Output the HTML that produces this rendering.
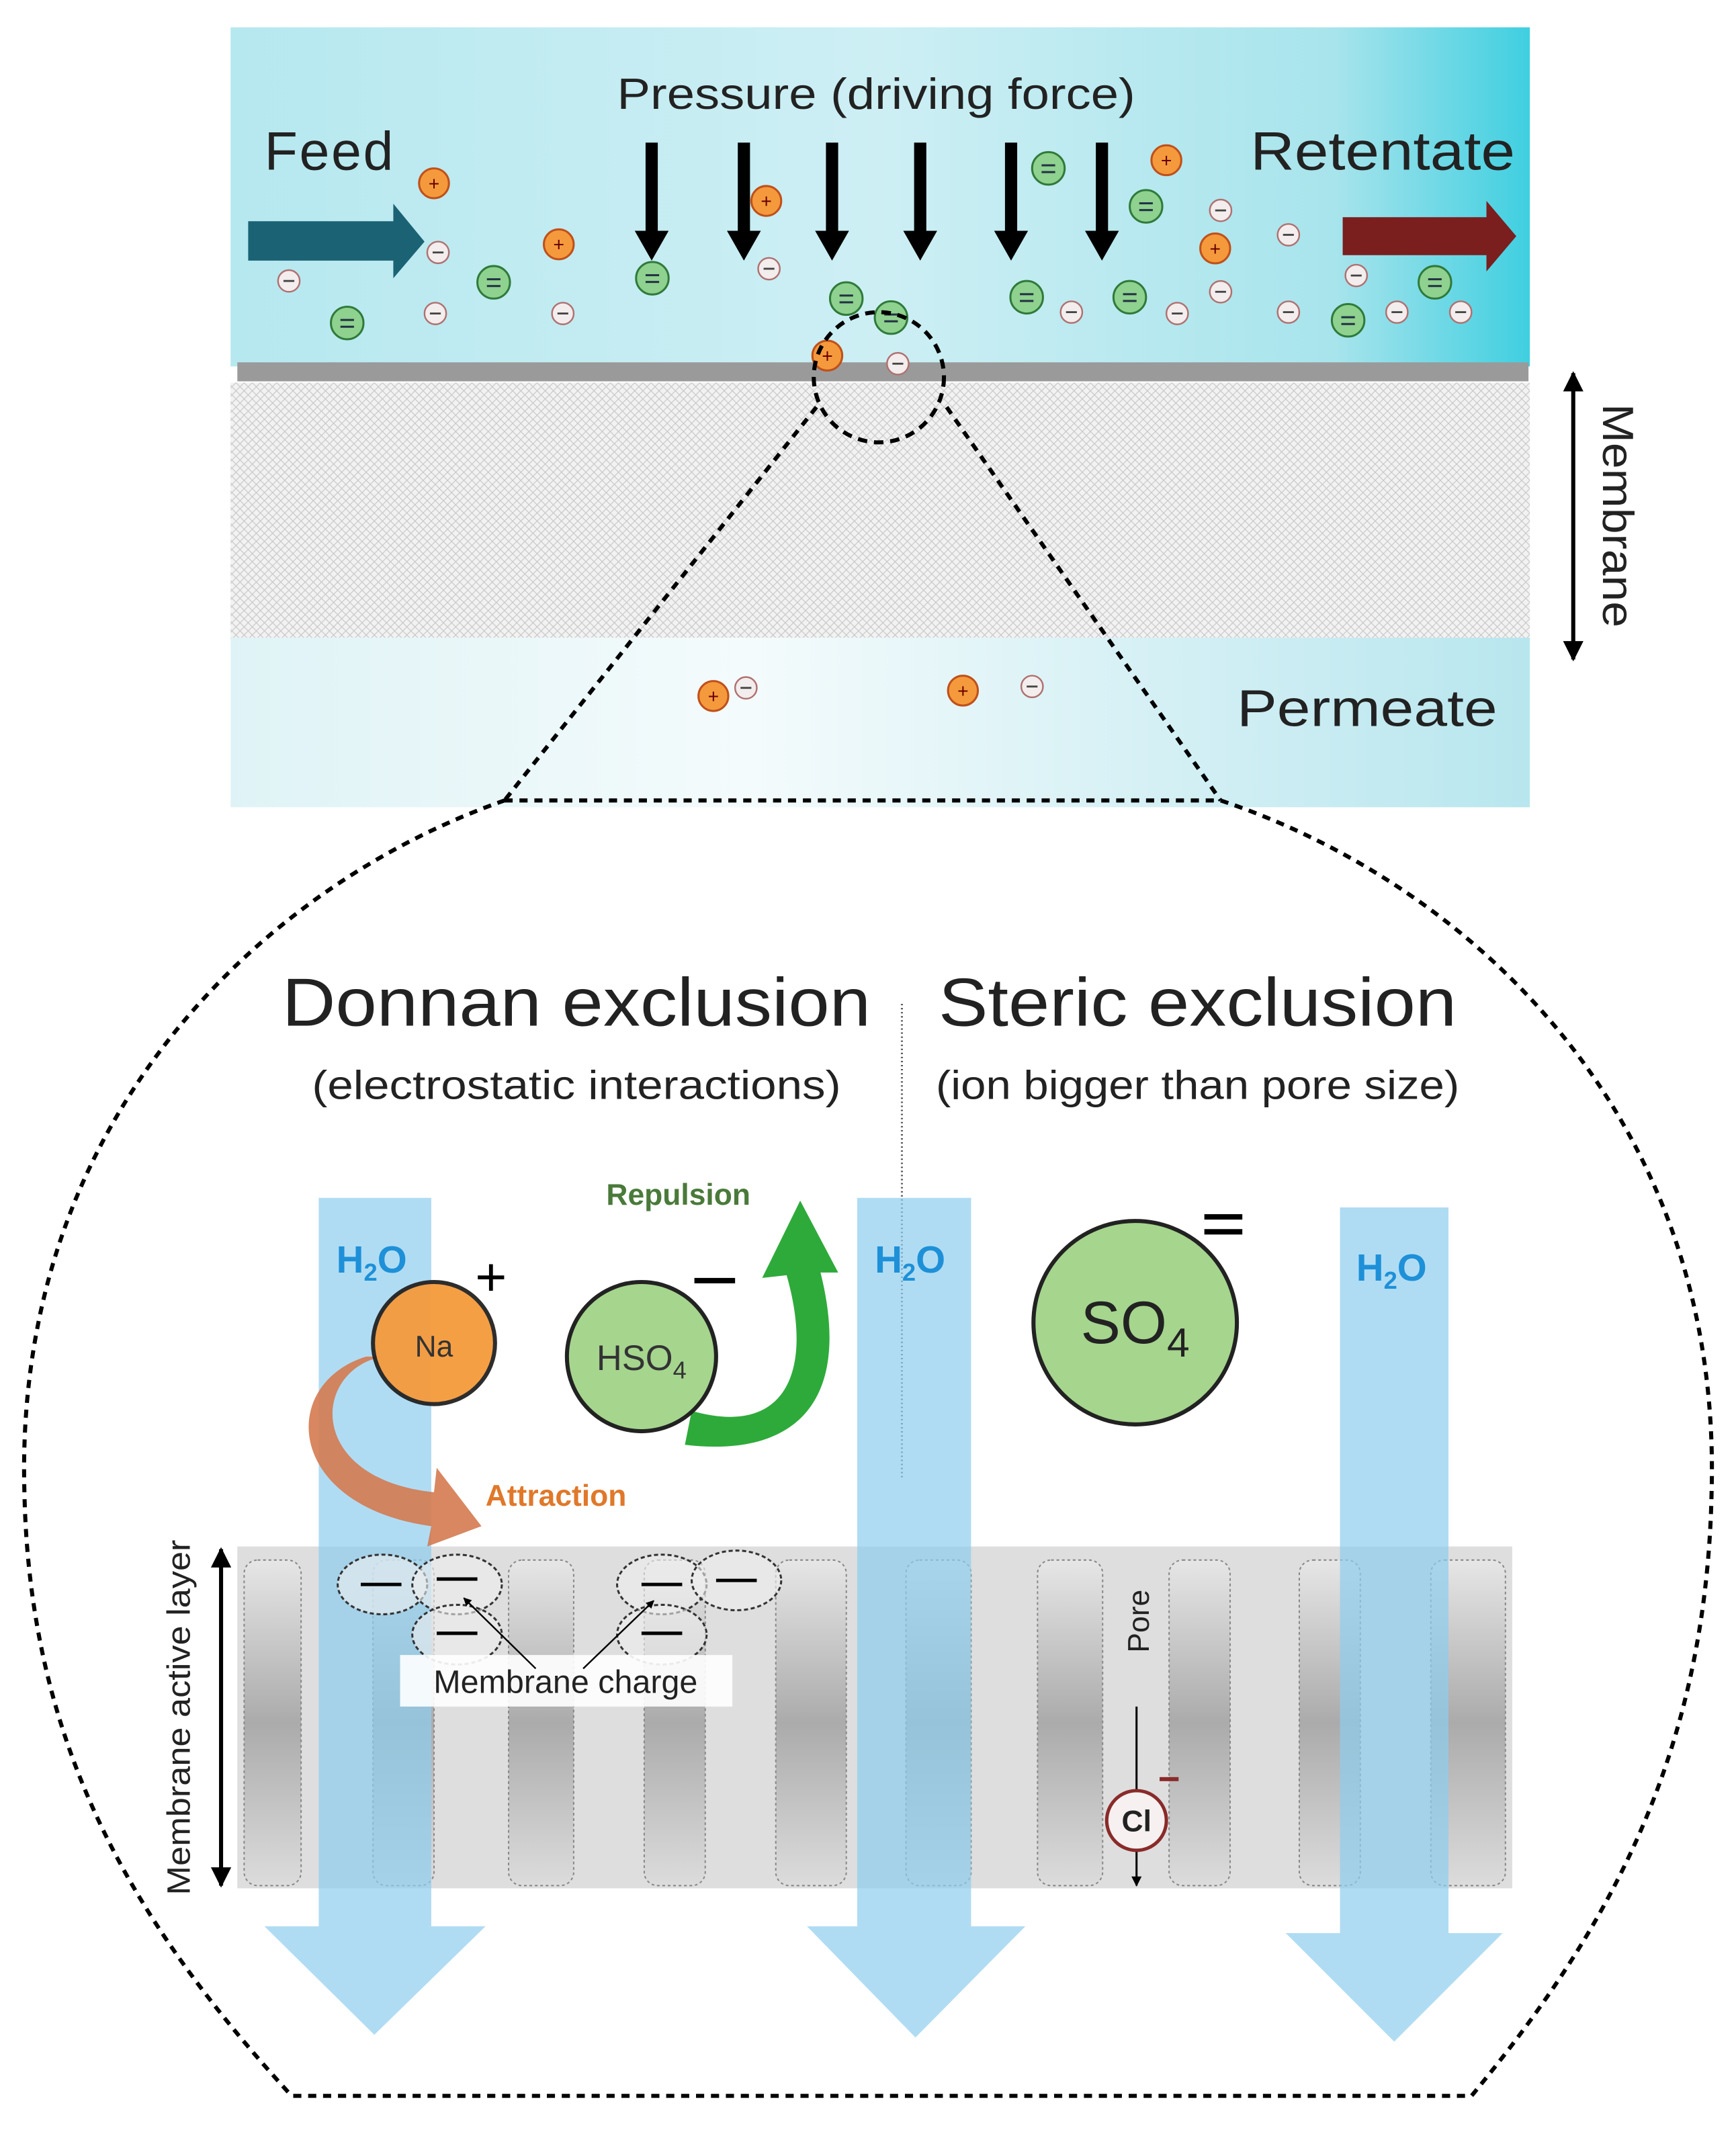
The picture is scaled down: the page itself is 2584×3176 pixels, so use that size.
<!DOCTYPE html>
<html><head><meta charset="utf-8"><style>
html,body{margin:0;padding:0;background:#fff;}
svg{display:block;font-family:"Liberation Sans",sans-serif;}
</style></head><body>
<svg width="2584" height="3176" viewBox="0 0 1280 1573" xmlns="http://www.w3.org/2000/svg">
<defs>
<linearGradient id="feed" x1="0" x2="1" y1="0" y2="0">
<stop offset="0" stop-color="#b6e8ef"/><stop offset="0.5" stop-color="#cdeff4"/><stop offset="0.85" stop-color="#a8e4ec"/><stop offset="1" stop-color="#3fcfe0"/></linearGradient>
<linearGradient id="perm" x1="0" x2="1" y1="0" y2="0">
<stop offset="0" stop-color="#dff3f6"/><stop offset="0.4" stop-color="#f4fbfc"/><stop offset="1" stop-color="#b8e6ee"/></linearGradient>
<pattern id="hatch" width="6" height="6" patternUnits="userSpaceOnUse">
<rect width="6" height="6" fill="#f2f2f2"/><path d="M0 0L6 6M6 0L0 6" stroke="#c8c8c8" stroke-width="0.6"/></pattern>
<linearGradient id="pil" x1="0" x2="0" y1="0" y2="1">
<stop offset="0" stop-color="#e6e6e6"/><stop offset="0.5" stop-color="#ababab"/><stop offset="1" stop-color="#dcdcdc"/></linearGradient>
<marker id="ah" viewBox="0 0 10 10" refX="9" refY="5" markerWidth="5" markerHeight="5" orient="auto-start-reverse"><path d="M0 0L10 5L0 10z" fill="#000"/></marker>
<g id="pos"><circle r="11" fill="#f59a3c" stroke="#c0501a" stroke-width="1.5"/><text y="5" text-anchor="middle" font-size="14" fill="#600">+</text></g>
<g id="neg"><circle r="8" fill="#f3eded" stroke="#b07070" stroke-width="1.2"/><rect x="-4" y="-0.7" width="8" height="1.4" fill="#444"/></g>
<g id="sul"><circle r="12" fill="#8fd18f" stroke="#2f7a3a" stroke-width="1.5"/><rect x="-5" y="-3" width="10" height="1.5" fill="#234"/><rect x="-5" y="2" width="10" height="1.5" fill="#234"/></g>
</defs>
<rect x="170" y="20" width="958" height="250" fill="url(#feed)"/>
<rect x="170" y="282" width="958" height="190" fill="url(#hatch)"/>
<rect x="170" y="470" width="958" height="125" fill="url(#perm)"/>
<rect x="175" y="267" width="952" height="14" fill="#9a9a9a"/>
<text x="195" y="125" font-size="40" fill="#222" textLength="95">Feed</text>
<text x="455" y="80" font-size="32" fill="#222" textLength="382" lengthAdjust="spacingAndGlyphs">Pressure (driving force)</text>
<text x="922" y="125" font-size="40" fill="#222" textLength="195" lengthAdjust="spacingAndGlyphs">Retentate</text>
<text x="912" y="535" font-size="38" fill="#222" textLength="192" lengthAdjust="spacingAndGlyphs">Permeate</text>
<path d="M183 163H290V150L313 178L290 205V192H183Z" fill="#1b6274"/>
<path d="M990 160H1096V148L1118 174L1096 200V188H990Z" fill="#7a1e1e"/>
<g fill="#000">
<path d="M476 105h9v65h8l-12.5 22l-12.5-22h8z"/>
<path d="M544 105h9v65h8l-12.5 22l-12.5-22h8z"/>
<path d="M609 105h9v65h8l-12.5 22l-12.5-22h8z"/>
<path d="M674 105h9v65h8l-12.5 22l-12.5-22h8z"/>
<path d="M741 105h9v65h8l-12.5 22l-12.5-22h8z"/>
<path d="M808 105h9v65h8l-12.5 22l-12.5-22h8z"/>
</g>
<use href="#pos" x="320" y="135"/><use href="#pos" x="412" y="180"/><use href="#pos" x="565" y="148"/><use href="#pos" x="860" y="118"/><use href="#pos" x="896" y="183"/><use href="#pos" x="610" y="262"/>
<use href="#pos" x="526" y="513"/><use href="#pos" x="710" y="509"/>
<use href="#neg" x="213" y="207"/><use href="#neg" x="323" y="186"/><use href="#neg" x="321" y="231"/><use href="#neg" x="415" y="231"/><use href="#neg" x="567" y="198"/><use href="#neg" x="662" y="268"/><use href="#neg" x="790" y="230"/><use href="#neg" x="868" y="231"/><use href="#neg" x="900" y="155"/><use href="#neg" x="900" y="215"/><use href="#neg" x="950" y="173"/><use href="#neg" x="950" y="230"/><use href="#neg" x="1000" y="203"/><use href="#neg" x="1030" y="230"/><use href="#neg" x="1077" y="230"/><use href="#neg" x="550" y="507"/><use href="#neg" x="761" y="506"/>
<use href="#sul" x="256" y="238"/><use href="#sul" x="364" y="208"/><use href="#sul" x="481" y="205"/><use href="#sul" x="624" y="220"/><use href="#sul" x="657" y="234"/><use href="#sul" x="773" y="124"/><use href="#sul" x="845" y="152"/><use href="#sul" x="757" y="219"/><use href="#sul" x="833" y="219"/><use href="#sul" x="994" y="236"/><use href="#sul" x="1058" y="208"/>
<line x1="1160" y1="275" x2="1160" y2="486" stroke="#000" stroke-width="3" marker-start="url(#ah)" marker-end="url(#ah)"/>
<text transform="translate(1182 380) rotate(90)" font-size="32" text-anchor="middle" fill="#222" textLength="165" lengthAdjust="spacingAndGlyphs">Membrane</text>
<circle cx="648" cy="278" r="48" fill="none" stroke="#000" stroke-width="3" stroke-dasharray="7 5"/>
<g fill="none" stroke="#000" stroke-width="3" stroke-dasharray="6 5">
<line x1="602" y1="300" x2="372" y2="590"/><line x1="698" y1="300" x2="900" y2="590"/>
<path d="M372 590H900C1080 650 1270 820 1262 1100C1258 1300 1180 1430 1085 1545H215C110 1430 22 1300 18 1100C10 820 200 650 372 590Z"/>
</g>
<text x="208" y="756" font-size="50" fill="#222" textLength="434" lengthAdjust="spacingAndGlyphs">Donnan exclusion</text>
<text x="230" y="810" font-size="30" fill="#222" textLength="390" lengthAdjust="spacingAndGlyphs">(electrostatic interactions)</text>
<text x="692" y="756" font-size="50" fill="#222" textLength="382" lengthAdjust="spacingAndGlyphs">Steric exclusion</text>
<text x="690" y="810" font-size="30" fill="#222" textLength="386" lengthAdjust="spacingAndGlyphs">(ion bigger than pore size)</text>
<line x1="665" y1="740" x2="665" y2="1090" stroke="#555" stroke-width="1.5" stroke-dasharray="1 2"/>
<rect x="175" y="1140" width="940" height="252" fill="#dedede"/>
<g fill="url(#pil)" stroke="#888" stroke-width="1" stroke-dasharray="2 2">
<rect x="180" y="1150" width="42" height="240" rx="10"/><rect x="275" y="1150" width="45" height="240" rx="10"/><rect x="375" y="1150" width="48" height="240" rx="10"/><rect x="475" y="1150" width="45" height="240" rx="10"/><rect x="572" y="1150" width="52" height="240" rx="10"/><rect x="668" y="1150" width="48" height="240" rx="10"/><rect x="765" y="1150" width="48" height="240" rx="10"/><rect x="862" y="1150" width="45" height="240" rx="10"/><rect x="958" y="1150" width="45" height="240" rx="10"/><rect x="1055" y="1150" width="55" height="240" rx="10"/>
</g>
<line x1="163" y1="1142" x2="163" y2="1390" stroke="#000" stroke-width="3" marker-start="url(#ah)" marker-end="url(#ah)"/>
<text transform="translate(140 1266) rotate(-90)" font-size="24" text-anchor="middle" fill="#222" textLength="262" lengthAdjust="spacingAndGlyphs">Membrane active layer</text>
<g fill="#8fcdee" opacity="0.7">
<path d="M235 883H318V1420H358L276 1500L195 1420H235Z"/>
<path d="M632 883H716V1420H756L675 1502L595 1420H632Z"/>
<path d="M988 890H1068V1425H1108L1028 1505L948 1425H988Z"/>
</g>
<g font-size="28" font-weight="bold" fill="#1e90d8">
<text x="248" y="938">H<tspan font-size="18" dy="6">2</tspan><tspan dy="-6">O</tspan></text>
<text x="645" y="938">H<tspan font-size="18" dy="6">2</tspan><tspan dy="-6">O</tspan></text>
<text x="1000" y="944">H<tspan font-size="18" dy="6">2</tspan><tspan dy="-6">O</tspan></text>
</g>
<path d="M282 1000C230 1010 225 1090 320 1100L322 1082L355 1125L315 1140L318 1125C210 1110 205 1020 270 1000Z" fill="#d47a50" opacity="0.9"/>
<circle cx="320" cy="990" r="45" fill="#f59a3c" stroke="#222" stroke-width="3" opacity="0.95"/>
<text x="320" y="1000" font-size="22" text-anchor="middle" fill="#333">Na</text>
<text x="362" y="955" font-size="40" text-anchor="middle" fill="#000">+</text>
<text x="358" y="1110" font-size="22" font-weight="bold" fill="#e0782a">Attraction</text>
<path d="M510 1040C580 1060 600 1010 580 940L562 942L590 885L618 938L605 938C628 1030 590 1075 505 1065Z" fill="#2eaa3a"/>
<circle cx="473" cy="1000" r="55" fill="#a6d58e" stroke="#222" stroke-width="3"/>
<text x="473" y="1010" font-size="26" text-anchor="middle" fill="#333">HSO<tspan font-size="18" dy="6">4</tspan></text>
<rect x="512" y="942" width="30" height="4" fill="#000"/>
<text x="447" y="888" font-size="22" font-weight="bold" fill="#4a7a3a">Repulsion</text>
<circle cx="837" cy="975" r="75" fill="#a6d58e" stroke="#222" stroke-width="3"/>
<text x="837" y="990" font-size="44" text-anchor="middle" fill="#222">SO<tspan font-size="30" dy="10">4</tspan></text>
<rect x="888" y="895" width="28" height="4" fill="#000"/><rect x="888" y="906" width="28" height="4" fill="#000"/>
<g fill="#eee" fill-opacity="0.6" stroke="#333" stroke-width="1.5" stroke-dasharray="3 2">
<ellipse cx="282" cy="1168" rx="33" ry="22"/><ellipse cx="337" cy="1168" rx="33" ry="22"/><ellipse cx="337" cy="1205" rx="33" ry="22"/>
<ellipse cx="488" cy="1168" rx="33" ry="22"/><ellipse cx="543" cy="1165" rx="33" ry="22"/><ellipse cx="488" cy="1205" rx="33" ry="22"/>
</g>
<g stroke="#000" stroke-width="2.5"><line x1="266" y1="1168" x2="296" y2="1168"/><line x1="322" y1="1164" x2="352" y2="1164"/><line x1="322" y1="1204" x2="352" y2="1204"/><line x1="473" y1="1168" x2="503" y2="1168"/><line x1="528" y1="1165" x2="558" y2="1165"/><line x1="473" y1="1204" x2="503" y2="1204"/></g>
<rect x="295" y="1220" width="245" height="38" fill="#fff" opacity="0.9"/>
<text x="417" y="1248" font-size="24" text-anchor="middle" fill="#222">Membrane charge</text>
<g stroke="#000" stroke-width="1.2"><line x1="395" y1="1230" x2="342" y2="1178" marker-end="url(#ah)"/><line x1="430" y1="1230" x2="482" y2="1180" marker-end="url(#ah)"/></g>
<text transform="translate(847 1195) rotate(-90)" font-size="22" text-anchor="middle" fill="#222">Pore</text>
<line x1="838" y1="1258" x2="838" y2="1390" stroke="#000" stroke-width="1.5" marker-end="url(#ah)"/>
<circle cx="838" cy="1342" r="22" fill="#f6f0f0" stroke="#8a2a2a" stroke-width="2.5"/>
<text x="838" y="1350" font-size="22" font-weight="bold" text-anchor="middle" fill="#222">Cl</text>
<rect x="855" y="1310" width="14" height="3" fill="#8a2a2a"/>
</svg>
</body></html>
